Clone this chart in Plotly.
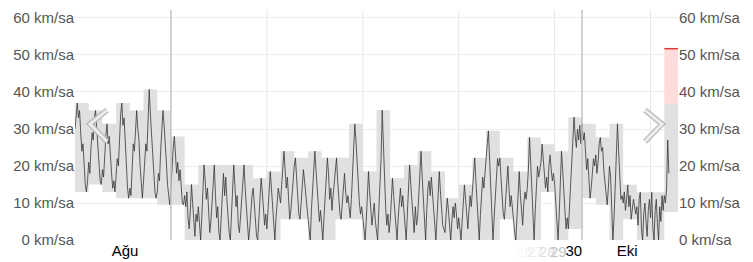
import plotly.graph_objects as go

# ---- data ----
# daily min / max wind speed (km/sa), 44 days, last one is today
day_min = [13, 15, 13, 11.3, 11.3, 11.3, 9.5, 9.5, 0, 0,
           0, 0, 0, 0, 0, 5.6, 5.6, 0, 0, 5.6,
           5.6, 0, 0, 0, 0, 0, 0, 0, 0, 0,
           0, 5.6, 0, 0, 13, 0, 3, 11.3, 9.5, 0,
           5.6, 0, 0, 7.6]
day_max = [37, 35, 31.4, 37, 35, 40.7, 35, 28, 15, 20.3,
           20.3, 20.3, 20.3, 16.7, 18.5, 24, 22.2, 24, 22.2, 22.2,
           31.4, 18.5, 35.1, 16.7, 20.3, 24, 18.5, 11.3, 14.9, 22.2,
           29.5, 22.2, 18.5, 27.7, 25.9, 24, 33.2, 31.4, 27.7, 31.4,
           14.9, 12.9, 12.9, 36.8]
forecast_top = 51.7

# wind speed, 2-hourly samples
wind = [
    30, 34, 37, 33, 35, 29, 24, 26, 19, 15, 13, 16,
    21, 18, 25, 29, 27, 33, 35, 30, 24, 20, 16, 15,
    19, 17, 24, 28, 31.4, 26, 28, 22, 18, 14, 16, 13,
    17, 22, 20, 29, 34, 37, 31, 33, 25, 19, 14, 11.3,
    14, 12, 20, 26, 24, 31, 35, 30, 27, 20, 15, 11.3,
    16, 21, 26, 24, 33, 40.7, 34, 29, 22, 17, 13, 11.3,
    13, 18, 16, 24, 29, 35, 31, 27, 21, 15, 12, 9.5,
    14, 20, 25, 28, 23, 18, 21, 16, 19, 13, 10, 9.5,
    12, 9, 13, 6, 3, 8, 15, 10, 4, 1, 7, 5,
    9, 4, 0, 6, 13, 20.3, 16, 11, 14, 7, 2, 5,
    10, 16, 20.3, 12, 6, 9, 2, 0, 7, 14, 18, 12,
    17, 11, 6, 2, 0, 8, 14, 20.3, 15, 9, 12, 4,
    2, 7, 13, 17, 20.3, 14, 10, 5, 0, 3, 9, 12,
    14, 10, 6, 1, 0, 5, 11, 16.7, 13, 8, 4, 7,
    3, 8, 13, 18.5, 14, 9, 4, 0, 6, 10, 14, 12,
    10, 15, 20, 24, 19, 14, 17, 9, 5.6, 8, 13, 17,
    20, 22.2, 17, 12, 7, 5.6, 10, 15, 19, 16, 12, 9,
    6, 3, 0, 8, 13, 18, 24, 19, 14, 10, 5, 8,
    3, 0, 6, 12, 17, 22.2, 18, 11, 14, 8, 12, 15,
    18, 22.2, 16, 11, 7, 5.6, 9, 14, 18, 13, 10, 12,
    8, 6, 11, 17, 23, 31.4, 27, 20, 14, 10, 7, 9,
    6, 2, 0, 5, 11, 18.5, 13, 9, 4, 7, 10, 5,
    3, 0, 8, 15, 22, 35.1, 24, 14, 9, 4, 7, 2,
    5, 11, 16.7, 12, 8, 3, 0, 6, 10, 14, 9, 12,
    8, 3, 0, 7, 14, 20.3, 15, 10, 6, 2, 9, 4,
    6, 12, 18, 24, 17, 11, 5, 0, 8, 14, 16, 12,
    17, 12, 7, 2, 0, 6, 12, 18.5, 13, 8, 4, 3,
    2, 7, 11.3, 8, 4, 0, 5, 9, 6, 10, 7, 3,
    6, 2, 0, 5, 10, 14.9, 11, 7, 3, 8, 12, 9,
    13, 18, 22.2, 16, 10, 4, 0, 7, 12, 17, 14, 19,
    21, 26, 29.5, 22, 15, 8, 0, 6, 12, 18, 22, 20,
    22.2, 17, 12, 7, 5.6, 10, 15, 20, 14, 9, 12, 8,
    6, 2, 0, 7, 13, 18.5, 12, 8, 4, 10, 13, 11,
    14, 19, 27.7, 21, 13, 6, 0, 8, 15, 20, 17, 19,
    21, 25.9, 22, 18, 14, 17, 13, 20, 23, 19, 16, 18,
    15, 10, 4, 0, 7, 16, 24, 19, 12, 8, 3, 6,
    3, 9, 17, 24, 29, 33.2, 28, 25, 30, 27, 31, 26,
    31.4, 27, 29, 24, 19, 22, 16, 11.3, 14, 18, 22, 20,
    23, 18, 21, 26, 27.7, 24, 25, 19, 15, 11, 9.5, 14,
    20, 17, 8, 0, 6, 14, 22, 31.4, 24, 16, 11, 12,
    10, 13, 8, 11, 14.9, 9, 12, 5.6, 8, 11, 9, 7,
    9, 4, 11, 12.9, 3, 0, 7, 10, 5, 1, 8, 11,
    6, 12.9, 3, 0, 8, 11, 4, 0, 9, 5, 12, 8,
    12, 10, 14, 27, 18,
]
samples_per_day = 12

y_ticks = [0, 10, 20, 30, 40, 50, 60]
y_tick_text = [f"{v} km/sa" for v in y_ticks]
x_tick_pos = [3.65, 36.4, 40.3]
x_tick_text = ["Ağu", "30", "Eki"]
faded_text = ["26", "27", "28", "29"]
faded_pos = [32.8, 33.6, 34.45, 35.3]
faded_col = ["#f6f6f6", "#ececec", "#dedede", "#c4c4c4"]
week_lines = [14, 21, 28, 35, 42]
month_lines = [7, 37]

n_days = len(day_min)
xs_band = list(range(n_days)) + [n_days]
lo = day_min + [day_min[-1]]
hi = day_max + [day_max[-1]]
xs_wind = [i / samples_per_day for i in range(len(wind))]

FONT = "Liberation Sans, Arial, Helvetica, sans-serif"

fig = go.Figure()
fig.add_trace(go.Scatter(x=xs_band, y=lo, mode="lines", line=dict(width=0, shape="hv"),
                         hoverinfo="skip", showlegend=False))
fig.add_trace(go.Scatter(x=xs_band, y=hi, mode="lines", line=dict(width=0, shape="hv"),
                         fill="tonexty", fillcolor="#e0e0e0", hoverinfo="skip", showlegend=False))
# forecast range on today
fig.add_trace(go.Scatter(x=[n_days - 1, n_days], y=[day_max[-1]] * 2, mode="lines",
                         line=dict(width=0), hoverinfo="skip", showlegend=False))
fig.add_trace(go.Scatter(x=[n_days - 1, n_days], y=[forecast_top] * 2, mode="lines",
                         line=dict(width=1.5, color="#e03c3c"), fill="tonexty",
                         fillcolor="#ffdcdc", hoverinfo="skip", showlegend=False))
fig.add_trace(go.Scatter(x=xs_wind, y=wind, mode="lines",
                         line=dict(width=0.8, color="#363636"), showlegend=False))
fig.add_trace(go.Scatter(x=[0], y=[0], yaxis="y2", mode="markers",
                         marker=dict(opacity=0), showlegend=False, hoverinfo="skip"))

shapes = []
for w in week_lines:
    shapes.append(dict(type="line", xref="x", yref="paper", x0=w, x1=w, y0=0, y1=1,
                       line=dict(color="#e6e6e6", width=1), layer="below"))
for m in month_lines:
    shapes.append(dict(type="line", xref="x", yref="paper", x0=m, x1=m, y0=0, y1=1,
                       line=dict(color="#c2c2c2", width=1.5), layer="above"))

# navigation chevrons
chev_left = "M 0.0531,0.565 L 0.0249,0.504 L 0.0531,0.428"
chev_right = "M 0.9453,0.565 L 0.9735,0.504 L 0.9453,0.428"
for p in (chev_left, chev_right):
    shapes.append(dict(type="path", xref="paper", yref="paper", path=p,
                       line=dict(color="#b8b8b8", width=5.5), layer="above"))
    shapes.append(dict(type="path", xref="paper", yref="paper", path=p,
                       line=dict(color="#ececec", width=3), layer="above"))

annotations = []
for t, p, c in zip(faded_text, faded_pos, faded_col):
    annotations.append(dict(x=p, y=0, xref="x", yref="paper", yanchor="top", yshift=-1,
                            text=t, showarrow=False,
                            font=dict(family=FONT, size=15, color=c)))

yax = dict(range=[0, 62.16], tickmode="array", tickvals=y_ticks, ticktext=y_tick_text,
           tickfont=dict(family=FONT, size=15, color="#555555"),
           showgrid=True, gridcolor="#eeeeee", gridwidth=1, zeroline=False,
           showline=False, ticks="", fixedrange=True, automargin=False)

fig.update_layout(
    width=753, height=262,
    margin=dict(l=75, r=75, t=10, b=22),
    paper_bgcolor="white", plot_bgcolor="white",
    xaxis=dict(range=[0, n_days], tickmode="array", tickvals=x_tick_pos, ticktext=x_tick_text,
               tickfont=dict(family=FONT, size=15, color="#000000"),
               showgrid=False, zeroline=False, showline=False, ticks="", automargin=False),
    yaxis=dict(**yax, layer="above traces"),
    yaxis2=dict(**dict(yax, showgrid=False), overlaying="y", side="right"),
    shapes=shapes,
    annotations=annotations,
    showlegend=False,
)

fig.write_html("out.html")
